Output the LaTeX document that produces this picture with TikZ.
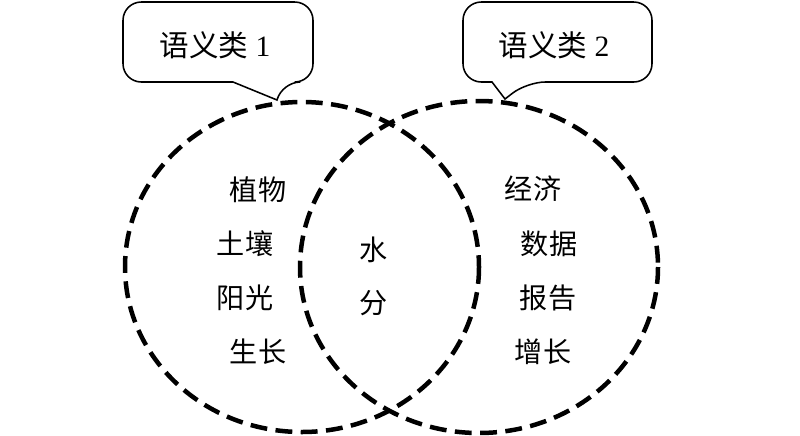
\documentclass[tikz,border=0pt]{standalone}
\usepackage{fontspec}
\setmainfont{Liberation Serif}
\newfontfamily\cjk{Noto Sans CJK SC}
\usetikzlibrary{positioning}
\tikzset{
  ci/.style={font=\cjk\fontsize{20}{24}\selectfont, inner sep=0pt},
  lei/.style={font=\fontsize{21}{25}\selectfont, inner sep=0pt},
  quan/.style={draw=black, line width=3.2pt, dash pattern=on 12pt off 6pt},
  qipao/.style={draw=black, line width=1.1pt},
}

\begin{document}
\begin{tikzpicture}[x=0.025cm, y=-0.025cm]
        \useasboundingbox (0,0) rectangle (800,435);
        % two dashed circles
        \draw[quan] (302,267) ellipse [x radius=177, y radius=165];
        \draw[quan] (479,267) ellipse [x radius=179, y radius=166];
        % callouts
        \node[lei] (c1) at (215,45) {{\cjk 语义类} 1};
        \node[lei] (c2) at (554,45) {{\cjk 语义类} 2};
        \draw[qipao] (277,100) -- (233,82) [rounded corners=13pt] -- (123,82) -- (123,2) -- (313,2) -- (313,82) -- (282,82) [sharp corners] -- cycle;
        \draw[qipao] (505,99) -- (492,82) [rounded corners=13pt] -- (463,82) -- (463,2) -- (652,2) -- (652,82) -- (527,82) [sharp corners] -- cycle;
        % words of class 1
        \node[ci] (a1) at (258,190) {植物};
        \node[ci] (a2) at (245,244) {土壤};
        \node[ci] (a3) at (245,298) {阳光};
        \node[ci] (a4) at (258,352) {生长};
        % shared word
        \node[ci] (w1) at (374,250) {水};
        \node[ci] (w2) at (374,303) {分};
        % words of class 2
        \node[ci] (b1) at (533,189) {经济};
        \node[ci] (b2) at (549,244) {数据};
        \node[ci] (b3) at (548,298) {报告};
        \node[ci] (b4) at (543,352) {增长};
      \end{tikzpicture}
\end{document}
